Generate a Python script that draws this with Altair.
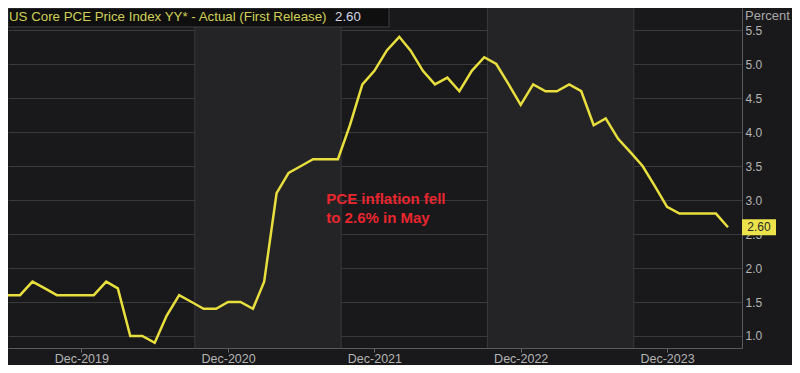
import altair as alt
import pandas as pd

# ---- data ----
months = pd.date_range("2019-05-01", "2024-05-01", freq="MS").strftime("%Y-%m-%d").tolist()
core_pce = [
    1.6, 1.6, 1.6, 1.8, 1.7, 1.6, 1.6, 1.6,                       # May-Dec 2019
    1.6, 1.8, 1.7, 1.0, 1.0, 0.9, 1.3, 1.6, 1.5, 1.4, 1.4, 1.5,   # 2020
    1.5, 1.4, 1.8, 3.1, 3.4, 3.5, 3.6, 3.6, 3.6, 4.1, 4.7, 4.9,   # 2021
    5.2, 5.4, 5.2, 4.9, 4.7, 4.8, 4.6, 4.9, 5.1, 5.0, 4.7, 4.4,   # 2022
    4.7, 4.6, 4.6, 4.7, 4.6, 4.1, 4.2, 3.9, 3.7, 3.5, 3.2, 2.9,   # 2023
    2.8, 2.8, 2.8, 2.8, 2.6,                                       # Jan-May 2024
]
x_tick_dates = ["2019-12-01", "2020-12-01", "2021-12-01", "2022-12-01", "2023-12-01"]
y_ticks = [1.0, 1.5, 2.0, 2.5, 3.0, 3.5, 4.0, 4.5, 5.0, 5.5]
band_starts = ["2020-09-09", "2022-09-09"]
band_ends = ["2021-09-09", "2023-09-09"]
vgrid_dates = ["2020-09-09", "2021-09-09", "2022-09-09", "2023-09-09"]
title_text = "US Core PCE Price Index YY* - Actual (First Release)"
title_value = "2.60"
last_label = "2.60"
note_lines = ["PCE inflation fell", "to 2.6% in May"]
note_date = ["2021-08-03"]
note_value = [3.02]

line_df = pd.DataFrame({"date": months, "value": core_pce})
band_df = pd.DataFrame({"date": band_starts, "end": band_ends})
vgrid_df = pd.DataFrame({"date": vgrid_dates})
note_df = pd.DataFrame({"date": note_date, "value": note_value, "text": [note_lines]})
last_df = pd.DataFrame({"date": [months[-1]], "value": [core_pce[-1]], "text": [last_label]})
one = pd.DataFrame({"a": [0]})

W, H = 734, 340

def dt(s):
    y, m, d = (int(p) for p in s.split("-"))
    return alt.DateTime(year=y, month=m, date=d, utc=True)

x_enc = alt.X(
    "date:T",
    scale=alt.Scale(type="utc", domain=[dt("2019-06-01"), dt("2024-06-05")]),
    axis=alt.Axis(
        values=[dt(s) for s in x_tick_dates],
        labelExpr="utcFormat(datum.value, '%b-%Y')",
        grid=False, ticks=True, tickSize=4, tickColor="#6a6a6a",
        domain=True, domainColor="#5a5a5a",
        labelColor="#b4b4b4", labelFontSize=12.5, labelFont="Liberation Sans",
        labelPadding=0, title=None,
    ),
)
y_enc = alt.Y(
    "value:Q",
    scale=alt.Scale(domain=[0.8235, 5.824], nice=False, zero=False),
    axis=alt.Axis(
        orient="right", values=y_ticks, format=".1f",
        grid=True, gridColor="#3a3a3c", ticks=False,
        domain=True, domainColor="#5a5a5a",
        labelColor="#b4b4b4", labelFontSize=12, labelFont="Liberation Sans",
        labelPadding=3, title=None,
    ),
)

bands = alt.Chart(band_df).mark_rect(color="#242426").encode(
    x=x_enc, x2="end:T"
)
vgrid = alt.Chart(vgrid_df).mark_rule(color="#3a3a3c", strokeWidth=1).encode(x=x_enc)
line = alt.Chart(line_df).mark_line(color="#e8df3e", strokeWidth=2.5, clip=True).encode(
    x=x_enc, y=y_enc
)
note = alt.Chart(note_df).mark_text(
    align="left", baseline="middle", color="#e8262e", fontSize=15,
    fontWeight="bold", font="Liberation Sans", lineHeight=19,
).encode(x=x_enc, y=y_enc, text="text")

last_box = alt.Chart(last_df).mark_rect(color="#ece24a", height=16, clip=False).encode(
    x=alt.value(W), x2=alt.value(W + 34), y=y_enc
)
last_text = alt.Chart(last_df).mark_text(
    align="center", baseline="middle", color="#2a2a2a", fontSize=12,
    font="Liberation Sans",
).encode(x=alt.value(W + 17), y=y_enc, text="text")

title_box = alt.Chart(one).mark_rect(fill="#0f0f10", stroke="#3e3e40", strokeWidth=1).encode(
    x=alt.value(0), x2=alt.value(381), y=alt.value(0), y2=alt.value(19)
)
title_main = alt.Chart(one).mark_text(
    align="left", baseline="middle", color="#d0cf55", fontSize=13.3, font="Liberation Sans",
).encode(x=alt.value(1), y=alt.value(9), text=alt.value(title_text))
title_val = alt.Chart(one).mark_text(
    align="left", baseline="middle", color="#d4d4e2", fontSize=13.3, font="Liberation Sans",
).encode(x=alt.value(327), y=alt.value(9), text=alt.value(title_value))
percent = alt.Chart(one).mark_text(
    align="left", baseline="middle", color="#a8a8a8", fontSize=13, font="Liberation Sans",
).encode(x=alt.value(W + 3), y=alt.value(8), text=alt.value("Percent"))

chart = alt.layer(
    bands, vgrid, line, note, last_box, last_text, title_box, title_main, title_val, percent
).properties(
    width=W, height=H,
    background="#19191b",
    padding={"left": 0, "top": 0, "right": 50, "bottom": 17},
    autosize=alt.AutoSizeParams(type="none"),
).configure_view(stroke=None)

chart.save("out.html", embed_options={"renderer": "svg", "actions": False})
